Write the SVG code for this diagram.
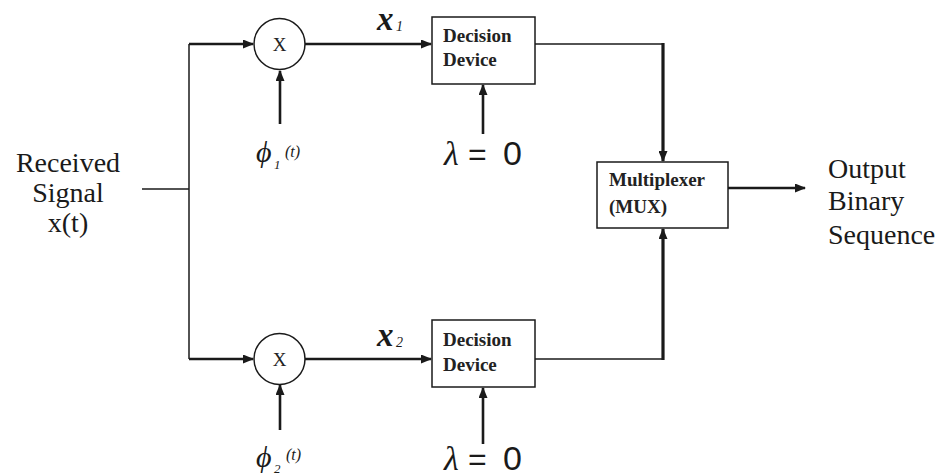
<svg xmlns="http://www.w3.org/2000/svg" width="944" height="476" viewBox="0 0 944 476">
<style>
.thin{stroke:#1a1a1a;stroke-width:1.5;fill:none}
.thick{stroke:#1a1a1a;stroke-width:2.6;fill:none}
.vthick{stroke:#1a1a1a;stroke-width:3.2;fill:none}
.shape{stroke:#1a1a1a;stroke-width:1.5;fill:#fff}
.big{font-family:"Liberation Serif","Times New Roman",serif;font-size:28px;fill:#1a1a1a}
.box{font-family:"Liberation Serif","Times New Roman",serif;font-size:19px;font-weight:bold;fill:#222}
.mx{font-family:"Liberation Serif","Times New Roman",serif;font-size:19px;fill:#222}
.math{font-family:"Liberation Serif","Times New Roman",serif;font-style:italic;fill:#1a1a1a}
.sans{font-family:"Liberation Sans",Arial,sans-serif;fill:#1a1a1a}
</style>
<defs>
<marker id="ah" markerUnits="userSpaceOnUse" markerWidth="11" markerHeight="9" refX="10" refY="4.5" orient="auto">
<path d="M0,0 L11,4.5 L0,9 z" fill="#1a1a1a"/>
</marker>
</defs>
<rect width="944" height="476" fill="#fff"/>
<g id="connectors">
<path class="thin" d="M142,189 H189"/>
<path class="thin" d="M189,44 V359"/>
<path class="thick" d="M189,44 H253" marker-end="url(#ah)"/>
<path class="thick" d="M189,359 H253" marker-end="url(#ah)"/>
<path class="thick" d="M305,44 H431" marker-end="url(#ah)"/>
<path class="thick" d="M305,359 H431" marker-end="url(#ah)"/>
<path class="thick" d="M280,124 V71" marker-end="url(#ah)"/>
<path class="thick" d="M280,430 V385" marker-end="url(#ah)"/>
<path class="thick" d="M483,134 V85" marker-end="url(#ah)"/>
<path class="thick" d="M483,444 V388" marker-end="url(#ah)"/>
<path class="thin" d="M535,44 H663"/>
<path class="vthick" d="M663,43 V161" marker-end="url(#ah)"/>
<path class="thin" d="M535,359 H663"/>
<path class="vthick" d="M663,360 V229" marker-end="url(#ah)"/>
<path class="thick" d="M728,188 H805" marker-end="url(#ah)"/>
</g>
<g id="input">
<text class="big" x="68" y="172" text-anchor="middle">Received</text>
<text class="big" x="68" y="202" text-anchor="middle">Signal</text>
<text class="big" x="68" y="232" text-anchor="middle">x(t)</text>
</g>
<g id="mult1">
<circle class="shape" cx="279.5" cy="44" r="25.5"/>
<text class="mx" x="279.5" y="51" text-anchor="middle">X</text>
</g>
<g id="mult2">
<circle class="shape" cx="279.5" cy="359" r="25.5"/>
<text class="mx" x="279.5" y="366" text-anchor="middle">X</text>
</g>
<g id="phi1">
<text class="math" x="256" y="162" font-size="30">ϕ</text>
<text class="math" x="274" y="169" font-size="13" font-style="normal">1</text>
<text class="math" x="285" y="157" font-size="16">(t)</text>
</g>
<g id="phi2">
<text class="math" x="256" y="467" font-size="30">ϕ</text>
<text class="math" x="274" y="473" font-size="13" font-style="normal">2</text>
<text class="math" x="286" y="460" font-size="16">(t)</text>
</g>
<g id="x1label">
<text class="math" x="377" y="30" font-size="33" font-weight="bold">x</text>
<text class="math" x="396" y="31" font-size="14" font-style="normal">1</text>
</g>
<g id="x2label">
<text class="math" x="377" y="346" font-size="33" font-weight="bold">x</text>
<text class="math" x="396" y="347" font-size="14" font-style="normal">2</text>
</g>
<g id="decision1">
<rect class="shape" x="432" y="17" width="103" height="67"/>
<text class="box" x="443" y="42">Decision</text>
<text class="box" x="443" y="66">Device</text>
</g>
<g id="decision2">
<rect class="shape" x="432" y="320" width="103" height="67"/>
<text class="box" x="443" y="346">Decision</text>
<text class="box" x="443" y="371">Device</text>
</g>
<g id="lambda1">
<text class="math" x="444" y="165" font-size="34">λ</text>
<text class="sans" x="468" y="165" font-size="32">=</text>
<text class="sans" x="503" y="165" font-size="34">0</text>
</g>
<g id="lambda2">
<text class="math" x="444" y="470" font-size="34">λ</text>
<text class="sans" x="468" y="470" font-size="32">=</text>
<text class="sans" x="503" y="470" font-size="34">0</text>
</g>
<g id="mux">
<rect class="shape" x="597" y="162" width="131" height="66"/>
<text class="box" x="609" y="186">Multiplexer</text>
<text class="box" x="609" y="213">(MUX)</text>
</g>
<g id="output">
<text class="big" x="828" y="178">Output</text>
<text class="big" x="828" y="210">Binary</text>
<text class="big" x="828" y="244">Sequence</text>
</g>
</svg>
